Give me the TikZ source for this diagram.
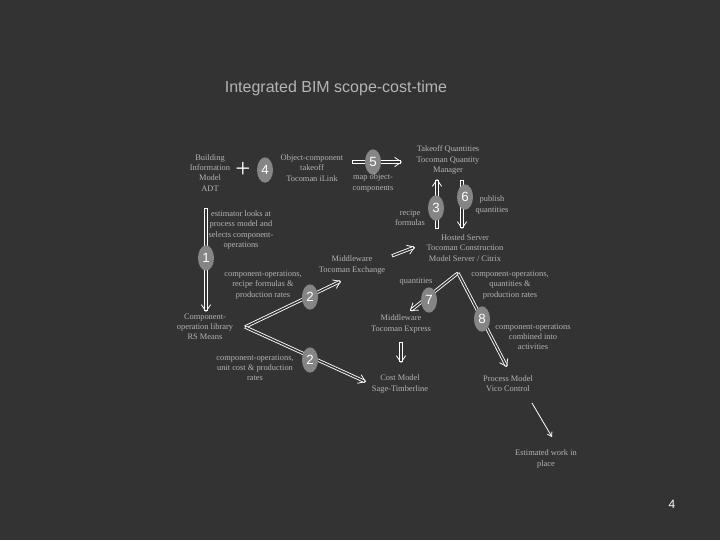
\documentclass[tikz,border=0pt]{standalone}
\usepackage{fontspec}
\setmainfont{Liberation Serif}
\setsansfont{Liberation Sans}
\usetikzlibrary{shapes.geometric,arrows.meta}
\definecolor{bg}{HTML}{333333}
\definecolor{txt}{HTML}{B4B4B4}
\definecolor{ell}{HTML}{858585}
\begin{document}
\begin{tikzpicture}[x=0.75pt,y=-0.75pt,
 lbl/.style={text=txt,font=\fontsize{6.3}{7.6}\selectfont,align=center,inner sep=0pt},
 num/.style={ellipse,fill=ell,text=white,font=\sffamily\fontsize{10}{10}\selectfont,minimum width=12pt,minimum height=19pt,inner sep=0pt},
 arr/.style={draw=white,line width=2.4pt,-{Straight Barb[line width=0.6pt,length=5pt,width=7pt]},
   postaction={draw=bg,line width=1.1pt,-,shorten >=1.5pt,shorten <=0.6pt}},
 sarr/.style={draw=white,line width=0.6pt,-{Straight Barb[length=3pt,width=4pt]}}]
\fill[bg] (0,0) rectangle (720,540);
\node[text=txt,font=\sffamily\fontsize{12}{12}\selectfont] (title) at (336,88) {Integrated BIM scope-cost-time};
\node[lbl] (bim) at (210,173) {Building\\Information\\Model\\ADT};
\node[text=white,font=\fontsize{20}{20}\selectfont] (plus) at (243,170) {+};
\node[lbl] (ilink) at (312,168) {Object-component\\takeoff\\Tocoman iLink};
\node[num] (n4) at (265,170) {4};
\coordinate (a5s) at (352,162); \coordinate (a5e) at (402,162);
\draw[arr] (a5s) -- (a5e);
\node[num] (n5) at (373,162) {5};
\node[lbl] (map) at (373,183) {map object-\\components};
\node[lbl] (tqm) at (448,160) {Takeoff Quantities\\Tocoman Quantity\\Manager};
\node[lbl] (hosted) at (465,248) {Hosted Server\\Tocoman Construction\\Model Server / Citrix};
\coordinate (a3s) at (437,229); \coordinate (a3e) at (437,179);
\draw[arr] (a3s) -- (a3e);
\node[num] (n3) at (436,208) {3};
\node[lbl] (rf) at (410,218) {recipe\\formulas};
\coordinate (a6s) at (462,180); \coordinate (a6e) at (462,229);
\draw[arr] (a6s) -- (a6e);
\node[num] (n6) at (465,197) {6};
\node[lbl] (pq) at (492,205) {publish\\quantities};
\node[lbl] (mex) at (352,265) {Middleware\\Tocoman Exchange};
\coordinate (ame) at (415,247);
\draw[arr] ([xshift=30pt]mex.north) -- (ame);
\node[lbl] (est) at (241,230) {estimator looks at\\process model and\\selects component-\\operations};
\coordinate (a1s) at (206,208); \coordinate (a1e) at (206,312);
\draw[arr] (a1s) -- (a1e);
\node[num] (n1) at (206,258) {1};
\node[lbl] (lib) at (205,327) {Component-\\operation library\\RS Means};
\coordinate (apex) at (245,327);
\coordinate (a2ae) at (341,281);
\coordinate (a2be) at (366,382);
\draw[arr] (apex) -- (a2ae);
\draw[arr] (apex) -- (a2be);
\node[num] (n2a) at (310,297) {2};
\node[num] (n2b) at (310,360) {2};
\node[lbl] (l2a) at (263,285) {component-operations,\\recipe formulas \&\\production rates};
\node[lbl] (l2b) at (255,368) {component-operations,\\unit cost \& production\\rates};
\coordinate (hapex) at (458,273);
\coordinate (a7e) at (410,311);
\coordinate (a8e) at (507,367);
\draw[arr] (hapex) -- (a7e);
\draw[arr] (hapex) -- (a8e);
\node[num] (n7) at (429,300) {7};
\node[num] (n8) at (482,319) {8};
\node[lbl] (qt) at (416,282) {quantities};
\node[lbl] (l8a) at (510,285) {component-operations,\\quantities \&\\production rates};
\node[lbl] (l8b) at (533,337) {component-operations\\combined into\\activities};
\node[lbl] (mexp) at (401,324) {Middleware\\Tocoman Express};
\coordinate (axs) at (401,342); \coordinate (axe) at (401,363);
\draw[arr] (axs) -- (axe);
\node[lbl] (cost) at (400,384) {Cost Model\\Sage-Timberline};
\node[lbl] (proc) at (508,384) {Process Model\\Vico Control};
\coordinate (ews) at (532,403); \coordinate (ewe) at (552,437);
\draw[sarr] (ews) -- (ewe);
\node[lbl] (ew) at (546,459) {Estimated work in\\place};
\node[text=white,font=\sffamily\fontsize{9}{9}\selectfont] (pg) at (672,504) {4};
\end{tikzpicture}
\end{document}
